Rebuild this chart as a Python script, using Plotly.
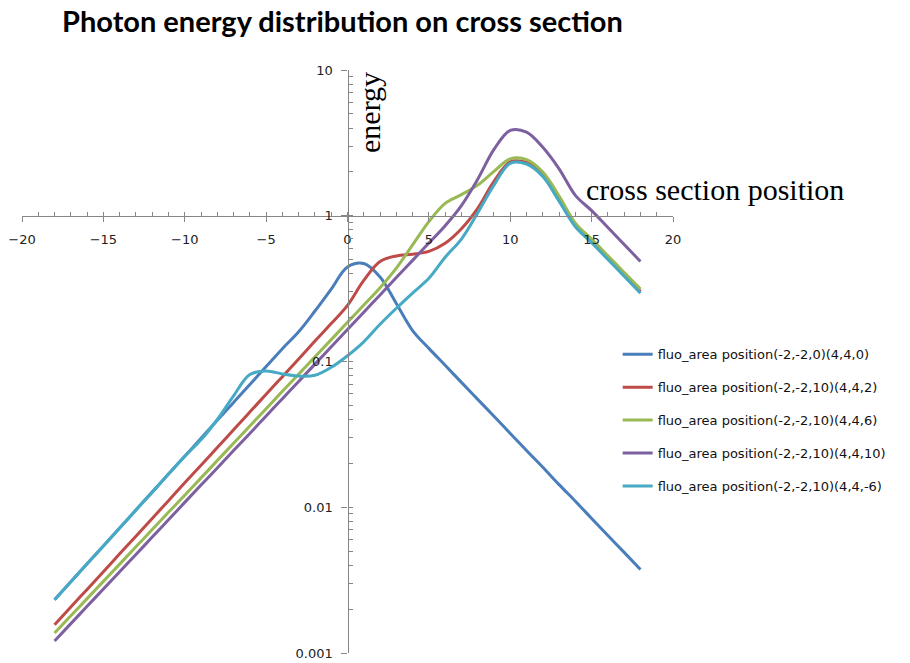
import plotly.graph_objects as go

positions = [-18, -17, -16, -15, -14, -13, -12, -11, -10, -9, -8, -7, -6, -5, -4, -3, -2, -1,
             0, 1, 2, 3, 4, 5, 6, 7, 8, 9, 10, 11, 12, 13, 14, 15, 16, 17, 18]

energy_z0 = [0.00232, 0.00308, 0.00409, 0.00543, 0.00721, 0.00957, 0.0127, 0.0169, 0.0224, 0.0297,
             0.0395, 0.0524, 0.0695, 0.0923, 0.1225, 0.160, 0.222, 0.314,
             0.445, 0.470, 0.380, 0.250, 0.163, 0.123, 0.0942, 0.0719, 0.0550, 0.0421, 0.0321,
             0.0245, 0.0188, 0.0143, 0.0110, 0.00838, 0.00640, 0.00490, 0.00374]
energy_z2 = [0.00156, 0.00207, 0.00273, 0.00361, 0.00479, 0.00632, 0.00838, 0.0111, 0.0147, 0.0194,
             0.0257, 0.0340, 0.0450, 0.0596, 0.0787, 0.104, 0.138, 0.182,
             0.243, 0.360, 0.485, 0.530, 0.545, 0.570, 0.648, 0.815, 1.125, 1.72, 2.34,
             2.32, 1.93, 1.30, 0.861, 0.668, 0.513, 0.394, 0.302]
energy_z6 = [0.00137, 0.00180, 0.00236, 0.00310, 0.00407, 0.00535, 0.00703, 0.00923, 0.0121, 0.0159,
             0.0209, 0.0275, 0.0361, 0.0474, 0.0624, 0.0819, 0.1076, 0.1413,
             0.1858, 0.2438, 0.3206, 0.437, 0.631, 0.912, 1.216, 1.396, 1.622, 2.018, 2.455,
             2.427, 1.995, 1.365, 0.891, 0.692, 0.532, 0.408, 0.314]
energy_z10 = [0.00121, 0.00159, 0.00209, 0.00275, 0.00361, 0.00474, 0.00624, 0.00820, 0.0108, 0.0142,
              0.0186, 0.0245, 0.0321, 0.0423, 0.0556, 0.0730, 0.0959, 0.1262,
              0.166, 0.218, 0.286, 0.377, 0.494, 0.650, 0.855, 1.175, 1.78, 2.85, 3.85,
              3.75, 2.95, 2.10, 1.38, 1.084, 0.830, 0.635, 0.486]
energy_zm6 = [0.00232, 0.00308, 0.00409, 0.00543, 0.00721, 0.00957, 0.0127, 0.0169, 0.0224, 0.0290,
              0.0400, 0.0582, 0.0813, 0.0861, 0.0822, 0.0794, 0.0804, 0.0912,
              0.1096, 0.1365, 0.180, 0.232, 0.295, 0.372, 0.519, 0.692, 1.047, 1.622, 2.291,
              2.265, 1.862, 1.259, 0.841, 0.653, 0.501, 0.384, 0.294]

series_names = [
    "fluo_area position(-2,-2,0)(4,4,0)",
    "fluo_area position(-2,-2,10)(4,4,2)",
    "fluo_area position(-2,-2,10)(4,4,6)",
    "fluo_area position(-2,-2,10)(4,4,10)",
    "fluo_area position(-2,-2,10)(4,4,-6)",
]
series_values = [energy_z0, energy_z2, energy_z6, energy_z10, energy_zm6]
series_colors = ["#4A7EBB", "#BE4B48", "#98B954", "#7D60A0", "#46AAC5"]

x_ticks = [-20, -15, -10, -5, 0, 5, 10, 15, 20]
y_ticks = [0.001, 0.01, 0.1, 1, 10]
y_ticklabels = ["0.001", "0.01", "0.1", "1", "10"]

fig = go.Figure()
for i, (name, vals, col) in enumerate(zip(series_names, series_values, series_colors)):
    fig.add_trace(go.Scatter(
        x=positions, y=vals, name=name, mode="lines",
        line=dict(color=col, width=3, shape="spline", smoothing=1.0),
        legendgroup=f"g{i}",
    ))

# dummy trace to materialise the overlay axes (crossing tick marks)
fig.add_trace(go.Scatter(x=[None], y=[None], xaxis="x2", yaxis="y2",
                         showlegend=False, hoverinfo="skip"))

axis_col = "#868686"
tick_font = dict(family="DejaVu Sans", size=13, color="#222222")

fig.update_layout(
    width=910, height=663,
    margin=dict(l=22, r=237, t=70, b=10),
    paper_bgcolor="white", plot_bgcolor="white",
    showlegend=True,
    title=dict(text="<b>Photon energy distribution on cross section</b>",
               font=dict(family="Lato", size=29, color="#000000"),
               x=62 / 910, xanchor="left", xref="container",
               y=1 - 22 / 663, yanchor="middle", yref="container"),
    legend=dict(x=0.915, xanchor="left", y=0.538, yanchor="top",
                font=dict(family="DejaVu Sans", size=13, color="#111111"),
                tracegroupgap=13, bgcolor="rgba(0,0,0,0)", borderwidth=0,
                traceorder="grouped"),
    xaxis=dict(range=[-20, 20], anchor="free", position=0.75, side="bottom",
               showgrid=False, zeroline=False, showline=True, linecolor=axis_col, linewidth=1.3,
               tickmode="array", tickvals=x_ticks, ticks="outside", ticklen=5,
               tickcolor=axis_col, tickwidth=1.3, tickfont=tick_font,
               ticklabelstandoff=6, automargin=False),
    yaxis=dict(type="log", range=[-3, 1], anchor="free", position=0.5, side="left",
               showgrid=False, zeroline=False, showline=True, linecolor=axis_col, linewidth=1.3,
               tickmode="array", tickvals=y_ticks, ticktext=y_ticklabels, ticks="outside",
               ticklen=6, tickcolor=axis_col, tickwidth=1.3, tickfont=tick_font,
               ticklabelstandoff=6, automargin=False),
    xaxis2=dict(range=[-20, 20], overlaying="x", anchor="free", position=0.75, side="bottom",
                showgrid=False, zeroline=False, showline=False, showticklabels=False,
                tickmode="linear", tick0=-20, dtick=1, ticks="inside", ticklen=4,
                tickcolor=axis_col, tickwidth=1.3, automargin=False),
    yaxis2=dict(type="log", range=[-3, 1], overlaying="y", anchor="free", position=0.5,
                side="left", showgrid=False, zeroline=False, showline=False,
                showticklabels=False, dtick="D1", ticks="inside", ticklen=4,
                tickcolor=axis_col, tickwidth=1.3, automargin=False),
    annotations=[
        dict(text="cross section position", xref="paper", yref="paper",
             x=(584 - 22) / 651, y=(653.3 - 190) / 583.3, xanchor="left", yanchor="middle",
             showarrow=False, font=dict(family="Liberation Serif", size=30, color="#000000")),
        dict(text="energy", xref="paper", yref="paper", textangle=-90,
             x=(370 - 22) / 651, y=(653.3 - 113) / 583.3, xanchor="center", yanchor="middle",
             showarrow=False, font=dict(family="Liberation Serif", size=30, color="#000000")),
    ],
)

fig.write_html("out.html")
